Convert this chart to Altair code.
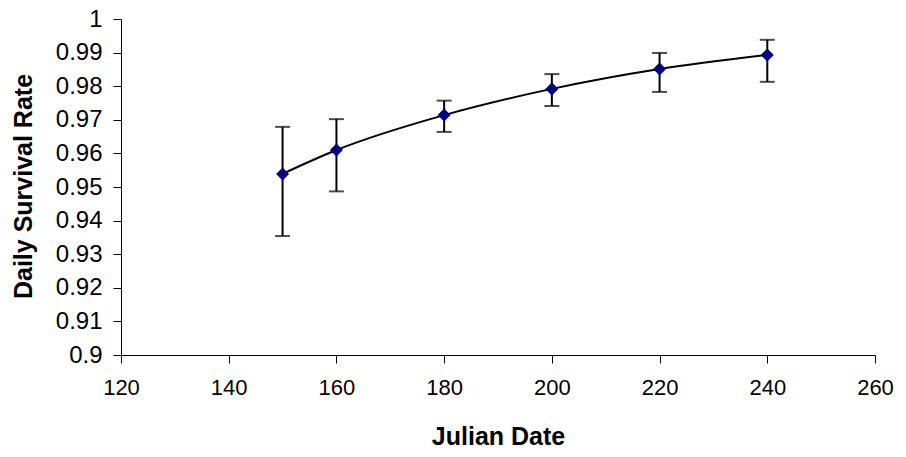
import altair as alt
import pandas as pd

julian = [150, 160, 180, 200, 220, 240]
dsr = [0.9539, 0.9610, 0.9714, 0.9792, 0.9851, 0.9893]
lower = [0.9354, 0.9487, 0.9664, 0.9741, 0.9783, 0.9813]
upper = [0.9679, 0.9702, 0.9757, 0.9836, 0.9899, 0.9938]
x_ticks = [120, 140, 160, 180, 200, 220, 240, 260]
y_ticks = [0.9, 0.91, 0.92, 0.93, 0.94, 0.95, 0.96, 0.97, 0.98, 0.99, 1.0]

df = pd.DataFrame({"x": julian, "y": dsr, "lo": lower, "hi": upper})

FONT = "Liberation Sans"

xscale = alt.Scale(domain=[120, 260], nice=False, zero=False)
yscale = alt.Scale(domain=[0.9, 1.0], nice=False, zero=False)

xaxis = alt.Axis(
    values=x_ticks, tickCount=8,
    title="Julian Date", grid=False, tickSize=8, labelPadding=14,
    labelFontSize=22, labelFont=FONT, labelColor="#000000", labelOverlap=False,
    titleFontSize=25, titleFont=FONT, titleFontWeight="bold", titleColor="#000000",
    titleX=377, titleY=81, titleBaseline="middle", titleAlign="center",
    domainColor="#000000", tickColor="#000000", labelFlush=False,
)
yaxis = alt.Axis(
    values=y_ticks, tickCount=11,
    title="Daily Survival Rate", grid=False, tickSize=8, labelPadding=11,
    labelFontSize=24, labelFont=FONT, labelColor="#000000", labelOverlap=False,
    labelExpr="datum.value > 0.9995 ? '1' : (datum.value < 0.9005 ? '0.9' : format(datum.value, '.2f'))",
    titleFontSize=25, titleFont=FONT, titleFontWeight="bold", titleColor="#000000",
    titleX=-98, titleY=167, titleAngle=270, titleBaseline="middle", titleAlign="center",
    domainColor="#000000", tickColor="#000000", labelFlush=False,
)

X = alt.X("x:Q", scale=xscale, axis=xaxis)

base = alt.Chart(df)

line = base.mark_line(color="#000000", strokeWidth=2, interpolate="monotone").encode(
    x=X,
    y=alt.Y("y:Q", scale=yscale, axis=yaxis),
)

bars = base.mark_rule(color="#000000", strokeWidth=2).encode(
    x=X,
    y=alt.Y("lo:Q", scale=yscale, axis=yaxis),
    y2="hi:Q",
)

cap_lo = base.mark_tick(color="#000000", orient="horizontal", size=15, thickness=2).encode(
    x=X,
    y=alt.Y("lo:Q", scale=yscale, axis=yaxis),
)
cap_hi = base.mark_tick(color="#000000", orient="horizontal", size=15, thickness=2).encode(
    x=X,
    y=alt.Y("hi:Q", scale=yscale, axis=yaxis),
)

pts = base.mark_point(shape="diamond", filled=True, color="#000080", size=170, opacity=1).encode(
    x=X,
    y=alt.Y("y:Q", scale=yscale, axis=yaxis),
)

chart = alt.layer(line, bars, cap_lo, cap_hi, pts).properties(
    width=754, height=336,
    autosize=alt.AutoSizeParams(type="none"),
    padding={"left": 121, "top": 19, "right": 31, "bottom": 102},
    background="white",
).configure_view(stroke=None).configure_axis(labelOverlap=False)

chart.save("out.html", embed_options={"renderer": "svg", "actions": False})
